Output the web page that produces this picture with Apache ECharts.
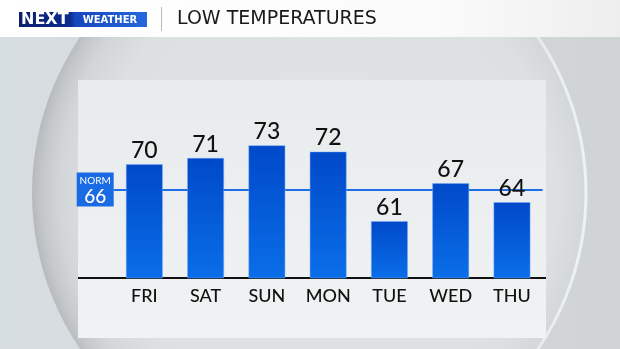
<!DOCTYPE html>
<html><head><meta charset="utf-8">
<script src="https://cdn.jsdelivr.net/npm/echarts@6/dist/echarts.min.js"></script>
<style>html,body{margin:0;padding:0;background:#d3d8da}#c{width:620px;height:349px}</style>
</head><body><div id="c"></div>
<script>
const days = ['FRI','SAT','SUN','MON','TUE','WED','THU'];
const lows = [70,71,73,72,61,67,64];
const normLow = 66;
const title = 'LOW TEMPERATURES';

const chart = echarts.init(document.getElementById('c'));
const F = 'Lato, "Noto Sans", sans-serif';
chart.setOption({
  animation:false,
  backgroundColor:{type:'linear',x:0,y:0,x2:1,y2:0,colorStops:[{offset:0,color:'#d6dde0'},{offset:0.5,color:'#d9dcdd'},{offset:1,color:'#d0d3d4'}]},
  graphic:[
    {type:'circle',z:-10,shape:{cx:309,cy:193,r:277},
      style:{fill:{type:'radial',x:0.53,y:0.5,r:0.53,colorStops:[{offset:0,color:'#e1e4e5'},{offset:0.78,color:'#dde0e1'},{offset:0.9,color:'#d3d6d8'},{offset:0.96,color:'#c4c8ca'},{offset:1,color:'#b4b8ba'}]},
        stroke:{type:'linear',x:0,y:0,x2:1,y2:0,colorStops:[{offset:0,color:'rgba(255,255,255,0)'},{offset:0.75,color:'rgba(255,255,255,0)'},{offset:1,color:'rgba(236,245,248,0.95)'}]},lineWidth:3}},
    {type:'rect',z:-8,shape:{x:78,y:80,width:468,height:258},style:{fill:{type:'linear',x:0,y:0,x2:0,y2:1,colorStops:[{offset:0,color:'#e8ebec'},{offset:1,color:'#f0f2f3'}]}}},
    {type:'rect',z:5,shape:{x:0,y:0,width:620,height:37},style:{fill:{type:'linear',x:0,y:0,x2:1,y2:0,colorStops:[{offset:0,color:'#ffffff'},{offset:0.7,color:'#fbfbfb'},{offset:1,color:'#eeeeee'}]}}},
    {type:'rect',z:6,shape:{x:19,y:12,width:128,height:15},style:{fill:{type:'linear',x:0,y:0,x2:1,y2:0,colorStops:[{offset:0,color:'#0a1f6e'},{offset:0.4,color:'#0d2c8c'},{offset:0.44,color:'#1746bd'},{offset:1,color:'#2567dd'}]}}},
    {type:'text',z:7,style:{x:21,y:20,text:'NEXT',fill:'#fff',font:'bold 16px "DejaVu Sans", sans-serif',verticalAlign:'middle'}},
    {type:'text',z:7,style:{x:110,y:20,text:'WEATHER',fill:'#fff',align:'center',font:'bold 10px "DejaVu Sans", sans-serif',verticalAlign:'middle'}},
    {type:'rect',z:6,shape:{x:161,y:7,width:1,height:24},style:{fill:'#b8b8b8'}},
    {type:'text',z:7,style:{x:177,y:19.5,text:title,fill:'#1a1a1a',font:'400 19px "DejaVu Sans", sans-serif',verticalAlign:'middle'}},
    {type:'rect',z:3,shape:{x:78,y:277,width:468,height:2},style:{fill:'#111'}}
  ],
  grid:{left:113.7,right:77.4,top:82,bottom:71},
  xAxis:{type:'category',data:days,axisLine:{show:false},axisTick:{show:false},
    axisLabel:{color:'#111',fontSize:18,fontFamily:F,fontWeight:500,margin:9}},
  yAxis:{type:'value',min:52,max:83,show:false,splitLine:{show:false}},
  series:[{type:'bar',data:lows,barWidth:37,z:4,
    itemStyle:{borderColor:'rgba(120,170,255,0.6)',borderWidth:0.8,
      color:{type:'linear',x:0,y:0,x2:0,y2:1,colorStops:[{offset:0,color:'#0049c9'},{offset:1,color:'#0a6ee8'}]}},
    label:{show:true,position:'top',distance:2,color:'#111',fontSize:23,fontFamily:F,fontWeight:500},
    markLine:{silent:true,symbol:'none',z:2,
      lineStyle:{color:'#1e6fe6',width:2,type:'solid'},
      data:[{yAxis:normLow}],
      label:{position:'start',distance:0,formatter:'{a|NORM}\n{b|'+normLow+'}',backgroundColor:'#1a6be3',padding:[2,3,1,3],
        rich:{a:{color:'#fff',fontSize:10,fontFamily:F,align:'center',lineHeight:13,width:31},b:{color:'#fff',fontSize:19,fontFamily:F,fontWeight:500,align:'center',lineHeight:18,width:31}}}
    }}]
});
</script></body></html>
